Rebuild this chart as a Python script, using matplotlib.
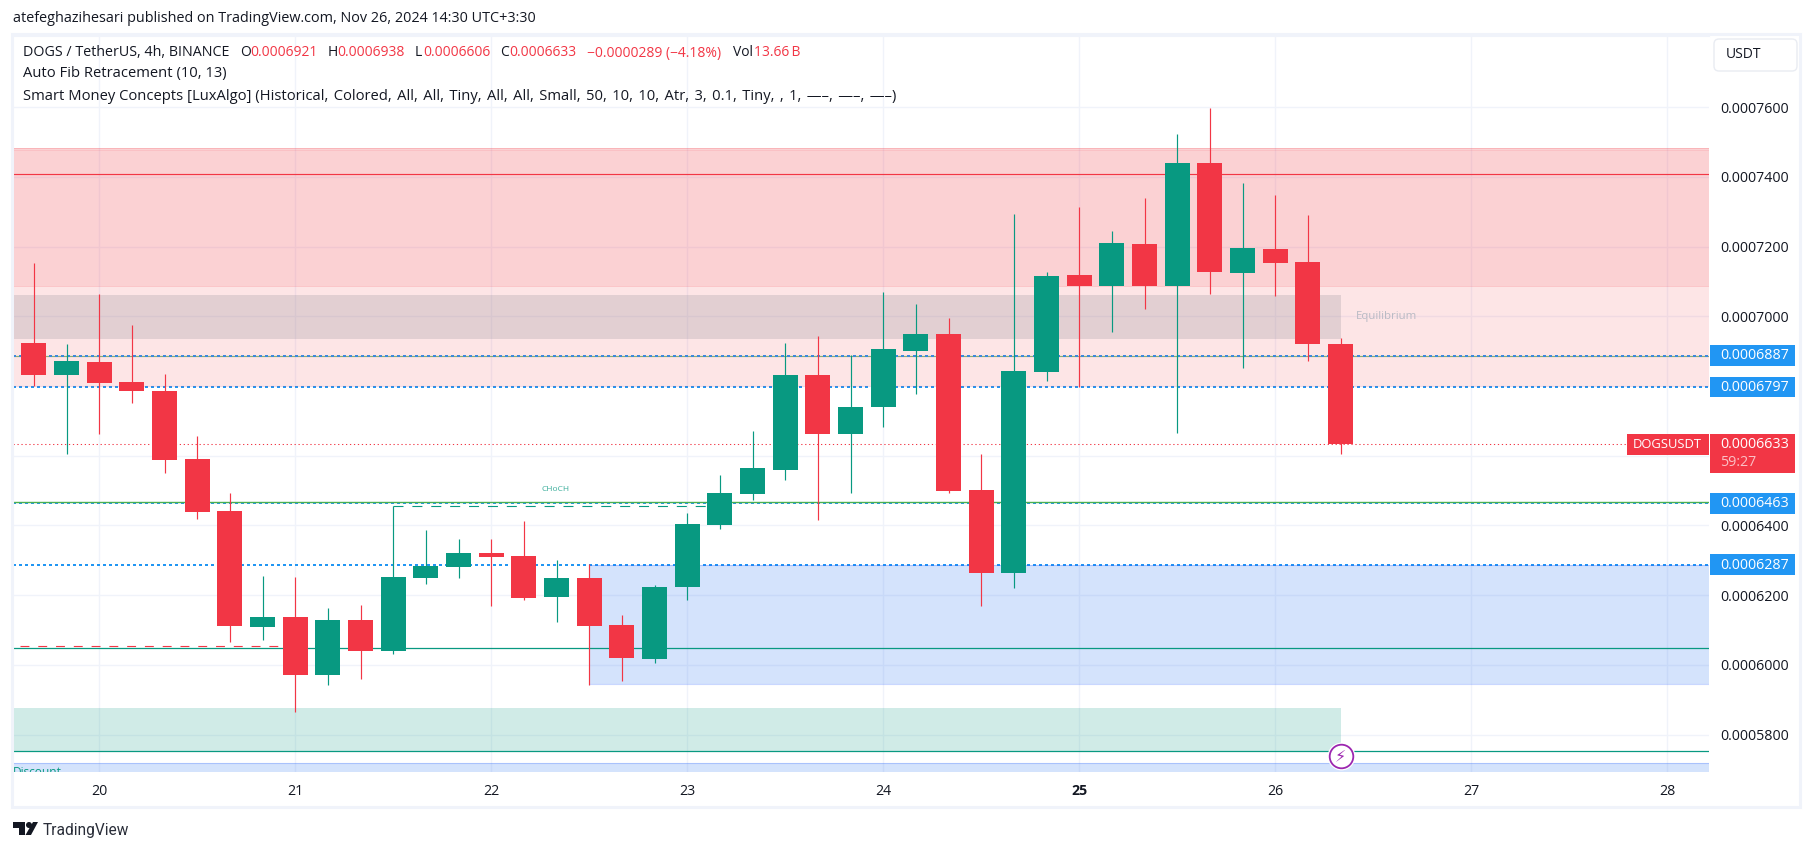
import matplotlib
matplotlib.use("Agg")
import matplotlib.pyplot as plt
import numpy as np
from matplotlib.patches import Rectangle, Circle, Polygon, FancyBboxPatch

plt.rcParams['font.family'] = ['Open Sans', 'DejaVu Sans']

# all prices in units of 1e-7
opens = [6923, 6832, 6869, 6811, 6786, 6590, 6441, 6108, 6137, 5971, 6129, 6040, 6249, 6281,
         6321, 6312, 6195, 6249, 6114, 6017, 6223, 6401, 6490, 6559, 6832, 6662, 6740, 6900,
         6949, 6501, 6263, 6840, 7118, 7087, 7207, 7087, 7440, 7124, 7193, 7156, 6921]
highs = [7153, 6920, 7064, 6975, 6834, 6656, 6493, 6255, 6252, 6163, 6172, 6455, 6387, 6361,
         6361, 6413, 6301, 6290, 6143, 6229, 6436, 6545, 6671, 6923, 6943, 6889, 7070, 7035,
         6995, 6605, 7293, 7127, 7314, 7245, 7339, 7523, 7598, 7382, 7348, 7291, 6938]
lows = [6800, 6605, 6662, 6751, 6550, 6418, 6065, 6071, 5864, 5942, 5959, 6031, 6232, 6249,
        6169, 6186, 6123, 5942, 5954, 6005, 6186, 6390, 6473, 6530, 6415, 6493, 6682, 6777,
        6493, 6169, 6220, 6814, 6797, 6955, 7021, 6665, 7064, 6852, 7058, 6872, 6606]
closes = [6832, 6872, 6809, 6786, 6588, 6438, 6111, 6137, 5971, 6129, 6040, 6252, 6284, 6321,
          6309, 6192, 6249, 6111, 6020, 6223, 6404, 6493, 6565, 6832, 6662, 6740, 6906, 6949,
          6499, 6263, 6843, 7116, 7087, 7210, 7087, 7440, 7127, 7196, 7153, 6920, 6633]

day_ticks = [20, 21, 22, 23, 24, 25, 26, 27, 28]
price_ticks = [5800, 6000, 6200, 6400, 6600, 6800, 7000, 7200, 7400, 7600]
hidden_ticks = [6600, 6800]
blue_levels = [6887, 6797, 6463, 6287]

UP = '#089981'
DOWN = '#F23645'
INK = '#131722'
W, H = 1814, 851
LEFT, RIGHT, TOP, BOTTOM = 13, 1709, 36, 772


def fx(x):
    return x / W


def fy(y):
    return 1 - y / H


fig = plt.figure(figsize=(W / 100, H / 100), dpi=100, facecolor='white')
ax = fig.add_axes([fx(LEFT), fy(BOTTOM), (RIGHT - LEFT) / W, (BOTTOM - TOP) / H])
ax.set_xlim(19.5597, 28.213)
ax.set_ylim(5692.5, 7804)
for s in ax.spines.values():
    s.set_visible(False)
ax.spines['top'].set_visible(True)
ax.spines['top'].set_color('#F0F3FA')
ax.spines['top'].set_linewidth(0.8)

ax.yaxis.tick_right()
ax.set_yticks(price_ticks)
ax.set_yticklabels(['' if p in hidden_ticks else '0.%07d' % p for p in price_ticks])
ax.set_xticks(day_ticks)
ax.set_xticklabels([str(d) for d in day_ticks])
ax.tick_params(axis='y', length=0, pad=8, labelsize=10.26, labelcolor=INK)
ax.tick_params(axis='x', length=0, pad=8.5, labelsize=10.2, labelcolor=INK)
ax.get_xticklabels()[5].set_fontweight('bold')
ax.grid(True, color='#F0F3FA', lw=1, zorder=0)
ax.set_axisbelow(True)

# dotted levels sit under the zones
ax.axhline(6885.5, color='#4CAF50', lw=0.85, alpha=0.75, zorder=1)
for p in blue_levels:
    ax.axhline(p, color='#2196F3', lw=1.44, ls=(0, (1.5, 1.5)), zorder=1.5)

# zones
zone_end = 26.3333
ax.axhspan(6797, 7482, color=DOWN, alpha=0.13, lw=0, zorder=2)
ax.axhspan(7087, 7482, color=DOWN, alpha=0.115, lw=0, zorder=2)
ax.axhline(7482, color=DOWN, lw=0.7, alpha=0.18, zorder=2)
ax.axhline(7476, color=DOWN, lw=0.7, alpha=0.1, zorder=2)
ax.axhline(7087, color=DOWN, lw=0.7, alpha=0.18, zorder=2)
ax.fill_between([19.5597, zone_end], 6936, 7060, color='#787B86', alpha=0.2, lw=0, zorder=2)
ax.fill_between([19.5597, zone_end], 5752, 5876, color=UP, alpha=0.19, lw=0, zorder=2)
ax.fill_between([22.5, 28.213], 5944, 6287, color='#2873F0', alpha=0.2, lw=0, zorder=2)
ax.plot([22.5, 28.213], [5944, 5944], color='#2962FF', alpha=0.25, lw=0.8, zorder=2)
ax.plot([22.5, 28.213], [6287, 6287], color='#2962FF', alpha=0.25, lw=0.8, zorder=2)
ax.axhspan(5692.5, 5717, color='#2873F0', alpha=0.2, lw=0, zorder=2)
ax.axhline(5717, color='#2962FF', alpha=0.25, lw=0.8, zorder=2)

# smart money lines
ax.axhline(7407, color=DOWN, lw=0.85, zorder=3)
ax.axhline(6466, color='#4CAF50', lw=1.0, zorder=3)
ax.axhline(6047, color=UP, lw=0.9, zorder=3)
ax.axhline(5752, color=UP, lw=0.9, zorder=3)
ax.plot([19.593, 21.0], [6053, 6053], color=DOWN, lw=0.8, ls=(0, (8, 8)), zorder=3)
ax.plot([21.5, 23.167], [6455, 6455], color=UP, lw=0.8, ls=(0, (9, 8)), zorder=3)
ax.axhline(6633, color=DOWN, lw=0.75, ls=(0, (1.2, 2.6)), zorder=3)

ax.text(22.33, 6502, 'CHoCH', color=UP, fontsize=6, ha='center', va='center', alpha=0.8, zorder=4)
ax.text(26.41, 7000, 'Equilibrium', color='#B8BAC4', fontsize=8.2, ha='left', va='center', zorder=4)
ax.text(19.561, 5692.5, 'Discount', color=UP, fontsize=8.6, ha='left', va='center', clip_on=True, zorder=4)

# candles
days = 19.6667 + np.arange(len(opens)) * 4 / 24
o, h, l, c = map(np.array, (opens, highs, lows, closes))
colors = [UP if a >= b else DOWN for a, b in zip(c, o)]
ax.vlines(days, l, h, colors=colors, lw=0.85, zorder=5)
ax.bar(days, np.abs(c - o), bottom=np.minimum(o, c), width=25 / 196, color=colors, lw=0, zorder=6)

# lightning badge
ax.plot([zone_end], [5737], 'o', ms=17, mfc='white', mec='white', mew=3, zorder=7, clip_on=False)
ax.plot([zone_end], [5737], 'o', ms=17, mfc='white', mec='#9C27B0', mew=1.3, zorder=8, clip_on=False)
ax.text(zone_end, 5737, '\u26a1', color='#9C27B0', fontsize=11.5, family='DejaVu Sans',
        ha='center', va='center', zorder=9)

# price scale labels
trans = ax.get_yaxis_transform()
pane_w = RIGHT - LEFT
for p in blue_levels:
    ax.add_patch(Rectangle((1 + 1 / pane_w, p - 30), 85 / pane_w, 60, transform=trans,
                           color='#2196F3', lw=0, clip_on=False, zorder=10))
    ax.text(1 + 11 / pane_w, p - 1, '0.%07d' % p, transform=trans, color='white', fontsize=10.26,
            va='center', ha='left', clip_on=False, zorder=11)
ax.add_patch(Rectangle((1 + 1 / pane_w, 6550), 85 / pane_w, 112, transform=trans,
                       color=DOWN, lw=0, clip_on=False, zorder=10))
ax.add_patch(Rectangle((1 - 82 / pane_w, 6602), 82 / pane_w, 60, transform=trans,
                       color=DOWN, lw=0, clip_on=False, zorder=10))
ax.text(1 + 11 / pane_w, 6632, '0.0006633', transform=trans, color='white', fontsize=10.26,
        va='center', ha='left', zorder=11)
ax.text(1 - 76 / pane_w, 6631, 'DOGSUSDT', transform=trans, color='white', fontsize=9.4,
        va='center', ha='left', zorder=11)
ax.text(1 + 11 / pane_w, 6580, '59:27', transform=trans, color='#FBC0C5', fontsize=10.26,
        va='center', ha='left', zorder=11)

# frame
fig.add_artist(Rectangle((fx(12), fy(807)), 1788 / W, (807 - 34) / H, fill=False,
                         ec='#F0F3FA', lw=2.2, transform=fig.transFigure))
fig.add_artist(FancyBboxPatch((1714, H - 71), 83, 32, boxstyle='round,pad=0,rounding_size=5',
                              fc='white', ec='#E9ECF2', lw=1, transform=None))
fig.text(fx(1726), fy(55), 'USDT', color=INK, fontsize=10, ha='left', va='center')

fig.text(fx(13), fy(19), 'atefeghazihesari published on TradingView.com, Nov 26, 2024 14:30 UTC+3:30',
         color=INK, fontsize=10.4, va='center')

# legend rows
row_text = ['DOGS / TetherUS, 4h, BINANCE', 'O', '0.0006921', 'H', '0.0006938', 'L', '0.0006606',
            'C', '0.0006633', '\u22120.0000289 (\u22124.18%)', 'Vol', '13.66\u2009B']
row_x = [23, 240, 250, 328, 337, 415, 423, 500, 509, 587, 733, 754]
row_col = [INK, INK, DOWN, INK, DOWN, INK, DOWN, INK, DOWN, DOWN, INK, DOWN]
for i, (txt, x, col) in enumerate(zip(row_text, row_x, row_col)):
    fig.text(fx(x), fy(53), txt, color=col, fontsize=10.3 if i == 0 else 10, va='center')
fig.text(fx(23), fy(74), 'Auto Fib Retracement (10, 13)', color=INK, fontsize=10.6, va='center')
smc = ('Smart Money Concepts [LuxAlgo] (Historical, Colored, All, All, Tiny, All, All, '
       'Small, 50, 10, 10, Atr, 3, 0.1, Tiny, , 1, \u2014\u2013, \u2014\u2013, \u2014\u2013)')
fig.text(fx(23), fy(96), smc.replace(', ', ',\u200a '), color=INK, fontsize=10.6, va='center')

# logo
logo = '#131722'
fig.add_artist(Rectangle((13, H - 828), 11.5, 6, color=logo, lw=0, transform=None))
fig.add_artist(Rectangle((19, H - 835), 5.5, 13, color=logo, lw=0, transform=None))
fig.add_artist(Circle((29, H - 825), 3, color=logo, lw=0, transform=None))
fig.add_artist(Polygon([(33, H - 822), (38, H - 822), (31, H - 835), (25.5, H - 835)], color=logo, lw=0, transform=None))
fig.text(fx(43), fy(830), 'TradingView', family=['Roboto'], color='#2A2E39', fontsize=11.2, va='center')

fig.savefig('out.png', dpi=100)
